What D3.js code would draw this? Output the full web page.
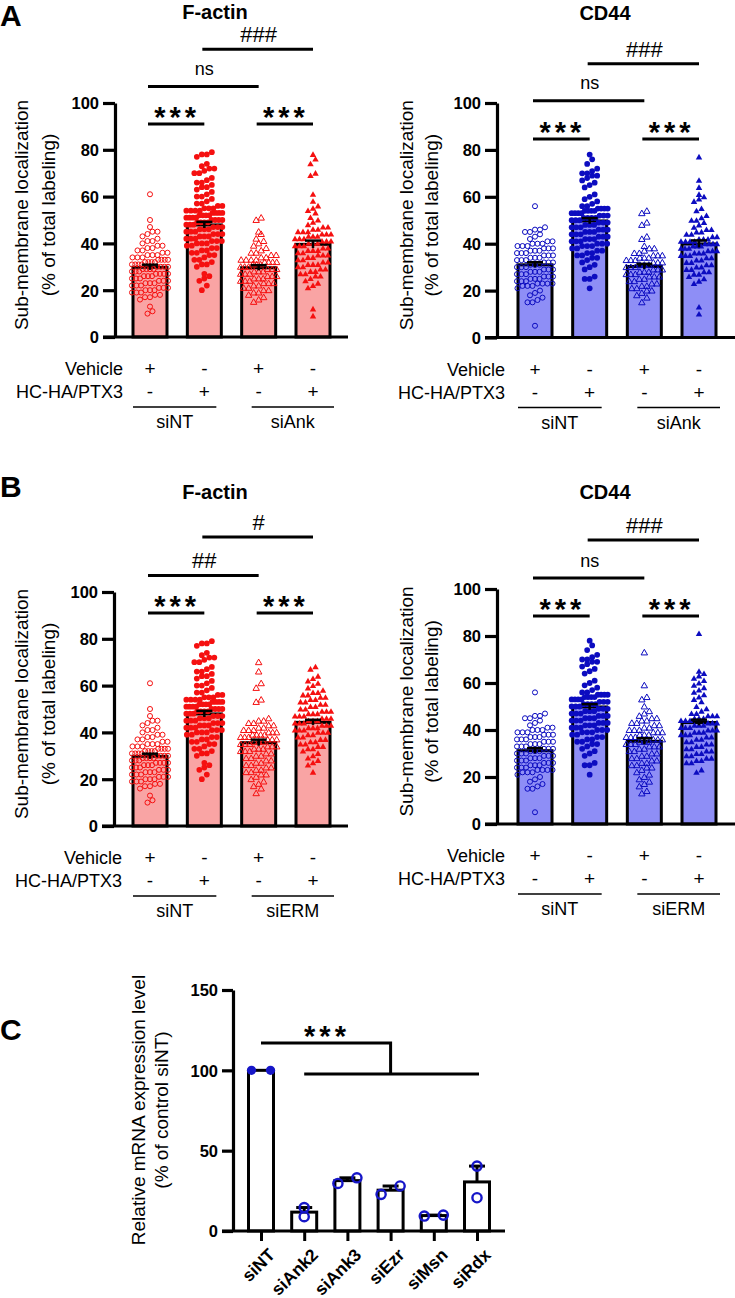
<!DOCTYPE html>
<html>
<head>
<meta charset="utf-8">
<script src="https://cdn.jsdelivr.net/npm/d3@7"></script>
<style>
  body { margin: 0; background: #fff; }
  svg { display: block; }
  text { font-family: "Liberation Sans", Arial, sans-serif; fill: #000; }
</style>
</head>
<body>
<svg id="fig" width="735" height="1298"></svg>
<script>
// ---- values (% sub-membrane localization per cell) ----
var fActinNTVeh = [61, 50, 47, 45, 45, 44, 43, 42, 41, 41, 40, 39, 39, 38, 38, 37, 37, 36, 36, 35, 35, 35, 34, 34, 34, 33, 33, 33, 33, 32, 32, 32, 32, 31, 31, 31, 31, 30, 30, 30, 30, 29, 29, 29, 29, 28, 28, 28, 27, 27, 27, 27, 26, 26, 26, 25, 25, 25, 24, 24, 24, 23, 23, 23, 22, 22, 22, 21, 21, 21, 20, 20, 20, 19, 19, 19, 18, 18, 17, 17, 16, 13, 11, 10];
var fActinNTHC = [79, 78, 78, 77, 74, 73, 72, 72, 71, 70, 70, 68, 67, 66, 66, 65, 64, 64, 63, 62, 61, 60, 60, 59, 58, 57, 57, 56, 56, 55, 55, 55, 54, 54, 54, 54, 53, 53, 53, 53, 52, 52, 52, 52, 51, 51, 51, 51, 50, 50, 50, 50, 49, 49, 49, 49, 48, 48, 48, 47, 47, 47, 46, 46, 46, 45, 45, 45, 44, 44, 44, 43, 43, 43, 42, 42, 42, 41, 41, 41, 40, 40, 40, 39, 39, 38, 38, 37, 37, 36, 36, 35, 35, 34, 33, 33, 32, 31, 31, 30, 27, 26, 25, 24, 22, 20];
var fActinAnkVeh = [51, 50, 45, 44, 42, 41, 40, 39, 38, 37, 36, 36, 35, 35, 34, 34, 33, 33, 33, 33, 32, 32, 32, 32, 31, 31, 31, 30, 30, 30, 29, 29, 29, 28, 28, 28, 27, 27, 27, 26, 26, 26, 25, 25, 25, 24, 24, 24, 23, 23, 23, 22, 22, 21, 21, 20, 20, 19, 19, 18, 17, 16, 15];
var fActinAnkHC = [78, 76, 74, 70, 69, 61, 58, 56, 55, 54, 53, 51, 50, 49, 48, 47, 47, 46, 46, 45, 45, 45, 44, 44, 44, 43, 43, 43, 42, 42, 42, 41, 41, 41, 40, 40, 40, 39, 39, 39, 38, 38, 37, 37, 37, 36, 36, 35, 35, 35, 34, 34, 33, 33, 32, 32, 31, 31, 31, 30, 30, 29, 29, 28, 28, 27, 27, 26, 26, 25, 24, 23, 22, 21, 12, 9];
var fActinERMVeh = [70, 66, 61, 59, 54, 53, 46, 45, 45, 44, 44, 43, 43, 42, 42, 41, 41, 41, 40, 40, 40, 39, 39, 39, 39, 38, 38, 38, 37, 37, 37, 36, 36, 36, 35, 35, 35, 34, 34, 34, 33, 33, 33, 32, 32, 32, 31, 31, 30, 30, 29, 29, 28, 28, 27, 27, 26, 26, 25, 25, 24, 24, 23, 23, 22, 22, 21, 20, 19, 18, 17, 16, 14];
var fActinERMHC = [68, 67, 64, 63, 62, 61, 60, 59, 58, 57, 57, 56, 56, 55, 55, 54, 54, 53, 53, 52, 52, 51, 51, 50, 50, 49, 49, 49, 48, 48, 48, 47, 47, 47, 46, 46, 46, 45, 45, 45, 44, 44, 44, 43, 43, 43, 42, 42, 42, 41, 41, 41, 40, 40, 40, 39, 39, 38, 38, 37, 37, 36, 36, 35, 35, 34, 34, 33, 33, 32, 31, 30, 29, 28, 27, 26, 23];

var cd44NTVeh = [56, 47, 46, 46, 45, 45, 44, 43, 42, 41, 41, 40, 40, 40, 39, 39, 39, 38, 38, 38, 37, 37, 37, 36, 36, 36, 35, 35, 35, 34, 34, 34, 33, 33, 33, 32, 32, 32, 31, 31, 31, 30, 30, 30, 29, 29, 29, 28, 28, 28, 27, 27, 27, 26, 26, 26, 25, 25, 25, 24, 24, 24, 23, 23, 23, 23, 22, 22, 22, 21, 20, 19, 18, 17, 16, 15, 15, 5];
var cd44NTHC = [78, 76, 74, 72, 71, 70, 70, 69, 69, 68, 67, 66, 65, 64, 61, 60, 59, 58, 57, 56, 56, 55, 55, 55, 55, 54, 54, 54, 54, 53, 53, 53, 53, 52, 52, 52, 51, 51, 51, 51, 50, 50, 50, 49, 49, 49, 48, 48, 48, 47, 47, 47, 46, 46, 46, 45, 45, 45, 44, 44, 44, 43, 43, 43, 42, 42, 42, 41, 41, 41, 40, 40, 40, 39, 39, 39, 38, 38, 37, 37, 36, 36, 35, 35, 34, 34, 33, 32, 31, 30, 29, 26, 25, 25, 21];
var cd44AnkVeh = [54, 53, 49, 48, 43, 42, 39, 38, 38, 37, 36, 36, 35, 35, 35, 34, 34, 34, 33, 33, 33, 32, 32, 32, 31, 31, 31, 30, 30, 30, 29, 29, 29, 28, 28, 28, 27, 27, 27, 26, 26, 26, 25, 25, 24, 24, 23, 23, 22, 22, 21, 21, 20, 20, 19, 18, 17, 15];
var cd44AnkHC = [77, 67, 64, 61, 60, 59, 58, 55, 54, 52, 51, 50, 50, 49, 48, 47, 46, 46, 45, 45, 44, 44, 43, 43, 42, 42, 42, 41, 41, 41, 41, 40, 40, 40, 40, 39, 39, 39, 38, 38, 38, 37, 37, 37, 36, 36, 36, 35, 35, 35, 34, 34, 33, 33, 32, 32, 31, 31, 30, 30, 29, 29, 28, 28, 27, 27, 26, 25, 24, 23, 13, 10];
var cd44ERMVeh = [73, 59, 54, 53, 50, 48, 47, 46, 45, 45, 44, 44, 43, 43, 42, 42, 41, 41, 40, 40, 40, 39, 39, 39, 38, 38, 38, 37, 37, 37, 36, 36, 36, 35, 35, 35, 34, 34, 34, 33, 33, 33, 32, 32, 31, 31, 30, 30, 29, 29, 28, 28, 27, 27, 26, 26, 25, 25, 24, 24, 23, 22, 21, 20, 19, 18, 17, 16, 14, 13];
var cd44ERMHC = [81, 65, 64, 63, 62, 61, 60, 59, 58, 57, 56, 55, 54, 53, 52, 50, 49, 48, 47, 47, 46, 46, 46, 45, 45, 45, 44, 44, 44, 43, 43, 43, 42, 42, 42, 41, 41, 41, 40, 40, 40, 39, 39, 39, 38, 38, 38, 37, 37, 36, 36, 35, 35, 34, 34, 33, 33, 32, 32, 31, 31, 30, 30, 29, 29, 28, 28, 27, 27, 26, 26, 23, 22];

// bar heights (mean) and SEM as drawn
var fActinAMeans = [29.8, 47.9, 29.6, 39.6], fActinASem = [1.1, 1.3, 1.1, 1.6];
var cd44AMeans   = [31.0, 49.7, 30.3, 39.9], cd44ASem   = [1.1, 1.2, 1.1, 1.5];
var fActinBMeans = [29.8, 47.9, 35.6, 44.3], fActinBSem = [1.1, 1.3, 1.3, 1.1];
var cd44BMeans   = [31.2, 49.8, 35.2, 43.2], cd44BSem   = [1.1, 1.2, 1.3, 1.2];

var vehicleRow = ["+", "-", "+", "-"];
var hcRow      = ["-", "+", "-", "+"];
var yTicks = [0, 20, 40, 60, 80, 100];

// panel C: relative mRNA (% of control siNT), two replicates each
var cCategories = ["siNT", "siAnk2", "siAnk3", "siEzr", "siMsn", "siRdx"];
var cValues = [[100, 100], [14.6, 8.9], [29.6, 33.1], [22.8, 28.0], [9.3, 9.9], [40.4, 20.7]];
var cTicks = [0, 50, 100, 150];

var RED = "#f51010", PINK = "#f9a4a4", BLUE = "#0c0cc0", LBLUE = "#8e8ef6";

var svg = d3.select("#fig");

// rows of a GraphPad-like scatter: points within `bin` units share a row, centred
function swarm(vals, bin) {
  var sorted = vals.slice().sort(function (a, b) { return a - b; });
  var rows = [], cur = null;
  sorted.forEach(function (v) {
    if (!cur || v >= cur.start + bin) { cur = { start: v, pts: [] }; rows.push(cur); }
    cur.pts.push(v);
  });
  var out = [];
  rows.forEach(function (r) {
    var n = r.pts.length;
    r.pts.forEach(function (v, k) { out.push({ v: v, k: k - (n - 1) / 2, n: n }); });
  });
  return out;
}

function starBase(cy, size) { return cy + 0.575 * size; }

function drawBarPanel(cfg) {
  var g = svg.append("g");
  var y = d3.scaleLinear().domain([0, 100]).range([cfg.y0, cfg.y100]);
  var x = d3.scalePoint().domain(d3.range(4)).range([cfg.x1, cfg.x4]);
  var bw = 34;

  // bars
  g.selectAll("rect.bar").data(cfg.means).enter().append("rect")
    .attr("class", "bar")
    .attr("x", function (d, i) { return x(i) - bw / 2; })
    .attr("y", function (d) { return y(d); })
    .attr("width", bw)
    .attr("height", function (d) { return cfg.y0 - y(d); })
    .attr("fill", cfg.fill)
    .attr("stroke", "#000").attr("stroke-width", 3);

  // points
  cfg.series.forEach(function (vals, i) {
    var pts = swarm(vals, 2.6);
    var filled = (i % 2 === 1);
    var tri = i >= 2;
    var sym = d3.symbol().type(tri ? d3.symbolTriangle : d3.symbolCircle).size(tri ? 18 : (filled ? 26 : 20));
    g.append("g").selectAll("path").data(pts).enter().append("path")
      .attr("d", sym)
      .attr("transform", function (p) {
        var step = Math.min(5, p.n > 1 ? 36 / (p.n - 1) : 5);
        return "translate(" + (x(i) + p.k * step) + "," + (y(p.v) + (tri ? 0.6 : 0)) + ")";
      })
      .attr("fill", filled ? cfg.color : "none")
      .attr("stroke", cfg.color)
      .attr("stroke-width", filled ? 0 : 1);
  });

  // error bars (SEM)
  cfg.means.forEach(function (m, i) {
    var s = cfg.sems[i];
    g.append("line").attr("x1", x(i)).attr("x2", x(i)).attr("y1", y(m - s)).attr("y2", y(m + s))
      .attr("stroke", "#000").attr("stroke-width", 2.5);
    g.append("line").attr("x1", x(i) - 8).attr("x2", x(i) + 8).attr("y1", y(m + s)).attr("y2", y(m + s))
      .attr("stroke", "#000").attr("stroke-width", 2.5);
  });

  // axes
  var ya = g.append("g").attr("transform", "translate(" + cfg.axisX + ",0)")
    .call(d3.axisLeft(y).tickValues(yTicks).tickSize(12).tickSizeOuter(0).tickPadding(4));
  ya.select(".domain").attr("stroke-width", 3.2);
  ya.selectAll(".tick line").attr("stroke-width", 3.2);
  ya.selectAll(".tick text").style("font-size", "16.5px").style("font-weight", "bold").attr("dy", "0.36em");
  g.append("line").attr("x1", cfg.axisX - 12).attr("x2", cfg.axisEnd).attr("y1", cfg.y0).attr("y2", cfg.y0)
    .attr("stroke", "#000").attr("stroke-width", 3.2);

  // y title
  [["Sub-membrane localization", cfg.yt[0]], ["(% of total labeling)", cfg.yt[1]]].forEach(function (t) {
    g.append("text").attr("transform", "translate(" + t[1] + "," + ((cfg.y0 + cfg.y100) / 2 - 5) + ") rotate(-90)")
      .attr("text-anchor", "middle").style("font-size", "19px").text(t[0]);
  });

  // treatment rows
  g.append("text").attr("x", cfg.axisX + 8).attr("y", cfg.y0 + 38).attr("text-anchor", "end").style("font-size", "18px").text("Vehicle");
  g.append("text").attr("x", cfg.axisX + 8).attr("y", cfg.y0 + 61).attr("text-anchor", "end").style("font-size", "18px").text("HC-HA/PTX3");
  [[vehicleRow, 38], [hcRow, 61]].forEach(function (row) {
    g.selectAll(null).data(row[0]).enter().append("text")
      .attr("x", function (d, i) { return x(i); })
      .attr("y", cfg.y0 + row[1])
      .attr("text-anchor", "middle").style("font-size", "19px")
      .text(function (d) { return d; });
  });
  var spans = [[x(0) - 17, x(1) + 12], [x(2) - 7, x(3) + 21]];
  spans.forEach(function (s, j) {
    g.append("line").attr("x1", s[0]).attr("x2", s[1]).attr("y1", cfg.y0 + 70).attr("y2", cfg.y0 + 70)
      .attr("stroke", "#000").attr("stroke-width", 1.5);
    g.append("text").attr("x", (s[0] + s[1]) / 2).attr("y", cfg.y0 + 91).attr("text-anchor", "middle")
      .style("font-size", "18px").text(cfg.groups[j]);
  });

  // significance
  cfg.sig.forEach(function (s) {
    var ly = y(s.v);
    g.append("line").attr("x1", x(s.a) - 2).attr("x2", x(s.b)).attr("y1", ly).attr("y2", ly)
      .attr("stroke", "#000").attr("stroke-width", 3);
    var t = g.append("text").attr("x", (x(s.a) + x(s.b)) / 2).attr("text-anchor", "middle").text(s.t);
    if (s.t === "***") {
      t.attr("y", starBase(ly - 14, 29)).style("font-size", "29px").style("font-weight", "bold").style("letter-spacing", "4px");
    } else if (s.t === "ns") {
      t.attr("y", ly - 16 + 4.7).style("font-size", "18px");
    } else {
      t.attr("y", ly - 15 + 7.7).style("font-size", "22px");
    }
  });

  // title + panel letter
  g.append("text").attr("x", cfg.titleX).attr("y", cfg.titleY + 7).attr("text-anchor", "middle")
    .style("font-size", "20px").style("font-weight", "bold").text(cfg.title);
  if (cfg.letter) {
    g.append("text").attr("x", 0).attr("y", cfg.letterY).style("font-size", "30px").style("font-weight", "bold").text(cfg.letter);
  }
}

drawBarPanel({
  axisX: 115, y0: 337, y100: 103, x1: 150, x4: 313, axisEnd: 348, yt: [28, 55],
  color: RED, fill: PINK, means: fActinAMeans, sems: fActinASem,
  series: [fActinNTVeh, fActinNTHC, fActinAnkVeh, fActinAnkHC], groups: ["siNT", "siAnk"],
  sig: [{ a: 0, b: 1, t: "***", v: 91 }, { a: 2, b: 3, t: "***", v: 91 }, { a: 0, b: 2, t: "ns", v: 107 }, { a: 1, b: 3, t: "###", v: 123 }],
  title: "F-actin", titleX: 215, titleY: 12, letter: "A", letterY: 26
});
drawBarPanel({
  axisX: 497, y0: 337.5, y100: 103, x1: 535, x4: 699, axisEnd: 735, yt: [413, 438],
  color: BLUE, fill: LBLUE, means: cd44AMeans, sems: cd44ASem,
  series: [cd44NTVeh, cd44NTHC, cd44AnkVeh, cd44AnkHC], groups: ["siNT", "siAnk"],
  sig: [{ a: 0, b: 1, t: "***", v: 84.6 }, { a: 2, b: 3, t: "***", v: 84.6 }, { a: 0, b: 2, t: "ns", v: 101 }, { a: 1, b: 3, t: "###", v: 116.7 }],
  title: "CD44", titleX: 605, titleY: 13
});
drawBarPanel({
  axisX: 114, y0: 826, y100: 592, x1: 150, x4: 313, axisEnd: 348, yt: [28, 55],
  color: RED, fill: PINK, means: fActinBMeans, sems: fActinBSem,
  series: [fActinNTVeh, fActinNTHC, fActinERMVeh, fActinERMHC], groups: ["siNT", "siERM"],
  sig: [{ a: 0, b: 1, t: "***", v: 91 }, { a: 2, b: 3, t: "***", v: 91 }, { a: 0, b: 2, t: "##", v: 107 }, { a: 1, b: 3, t: "#", v: 123.5 }],
  title: "F-actin", titleX: 215, titleY: 492, letter: "B", letterY: 497
});
drawBarPanel({
  axisX: 497, y0: 824, y100: 589, x1: 535, x4: 699, axisEnd: 735, yt: [413, 438],
  color: BLUE, fill: LBLUE, means: cd44BMeans, sems: cd44BSem,
  series: [cd44NTVeh, cd44NTHC, cd44ERMVeh, cd44ERMHC], groups: ["siNT", "siERM"],
  sig: [{ a: 0, b: 1, t: "***", v: 88.5 }, { a: 2, b: 3, t: "***", v: 88.5 }, { a: 0, b: 2, t: "ns", v: 104.7 }, { a: 1, b: 3, t: "###", v: 120.9 }],
  title: "CD44", titleX: 605, titleY: 492
});

// ---- panel C ----
(function () {
  var g = svg.append("g");
  var axisX = 233, y0 = 1231;
  var y = d3.scaleLinear().domain([0, 150]).range([y0, 990]);
  var x = d3.scalePoint().domain(cCategories).range([261, 477]);
  var bw = 25;
  var stats = cValues.map(function (v) {
    var m = d3.mean(v);
    return { m: m, sem: d3.deviation(v) / Math.sqrt(v.length) };
  });

  g.selectAll("rect").data(stats).enter().append("rect")
    .attr("x", function (d, i) { return x(cCategories[i]) - bw / 2; })
    .attr("y", function (d) { return y(d.m); })
    .attr("width", bw).attr("height", function (d) { return y0 - y(d.m); })
    .attr("fill", "#fff").attr("stroke", "#000").attr("stroke-width", 3);

  stats.forEach(function (d, i) {
    if (!(d.sem > 0)) return;
    var cx = x(cCategories[i]);
    g.append("line").attr("x1", cx).attr("x2", cx).attr("y1", y(d.m)).attr("y2", y(d.m + d.sem)).attr("stroke", "#000").attr("stroke-width", 3);
    g.append("line").attr("x1", cx - 8).attr("x2", cx + 8).attr("y1", y(d.m + d.sem)).attr("y2", y(d.m + d.sem)).attr("stroke", "#000").attr("stroke-width", 3);
  });

  cValues.forEach(function (vals, i) {
    var pts = swarm(vals, 5.5);
    g.append("g").selectAll("circle").data(pts).enter().append("circle")
      .attr("cx", function (p) { return x(cCategories[i]) + p.k * 19; })
      .attr("cy", function (p) { return y(p.v); })
      .attr("r", 4.6)
      .attr("fill", i === 0 ? "#1616c8" : "none")
      .attr("stroke", "#1616c8").attr("stroke-width", i === 0 ? 0 : 2.4);
  });

  var ya = g.append("g").attr("transform", "translate(" + axisX + ",0)")
    .call(d3.axisLeft(y).tickValues(cTicks).tickSize(11).tickSizeOuter(0).tickPadding(4));
  ya.select(".domain").attr("stroke-width", 3.2);
  ya.selectAll(".tick line").attr("stroke-width", 3.2);
  ya.selectAll(".tick text").style("font-size", "16.5px").style("font-weight", "bold").attr("dy", "0.36em");

  var xa = g.append("g").attr("transform", "translate(0," + y0 + ")")
    .call(d3.axisBottom(x).tickSize(10).tickSizeOuter(0).tickFormat(""));
  xa.select(".domain").remove();
  xa.selectAll(".tick line").attr("stroke-width", 3);
  g.append("line").attr("x1", axisX - 11).attr("x2", 505).attr("y1", y0).attr("y2", y0).attr("stroke", "#000").attr("stroke-width", 3.2);
  g.selectAll("text.xl").data(cCategories).enter().append("text").attr("class", "xl")
    .attr("transform", function (d) { return "translate(" + (x(d) + 15) + "," + (y0 + 25) + ") rotate(-45)"; })
    .attr("text-anchor", "end").style("font-size", "17.5px").style("font-weight", "bold").text(function (d) { return d; });

  [["Relative mRNA expression level", 145], ["(% of control siNT)", 168]].forEach(function (t) {
    g.append("text").attr("transform", "translate(" + t[1] + "," + 1110 + ") rotate(-90)")
      .attr("text-anchor", "middle").style("font-size", "19px").text(t[0]);
  });

  // bracket: siNT vs all knockdowns
  var top = y(117), low = y(97.7);
  g.append("path")
    .attr("d", "M" + x("siNT") + "," + top + "H" + x("siEzr") + "V" + low)
    .attr("fill", "none").attr("stroke", "#000").attr("stroke-width", 3);
  g.append("line").attr("x1", x("siAnk2")).attr("x2", x("siRdx") + 2).attr("y1", low).attr("y2", low)
    .attr("stroke", "#000").attr("stroke-width", 3);
  g.append("text").attr("x", 327).attr("y", starBase(top - 14, 29)).attr("text-anchor", "middle")
    .style("font-size", "29px").style("font-weight", "bold").style("letter-spacing", "4px").text("***");

  g.append("text").attr("x", 0).attr("y", 1040).style("font-size", "30px").style("font-weight", "bold").text("C");
})();
</script>
</body>
</html>
